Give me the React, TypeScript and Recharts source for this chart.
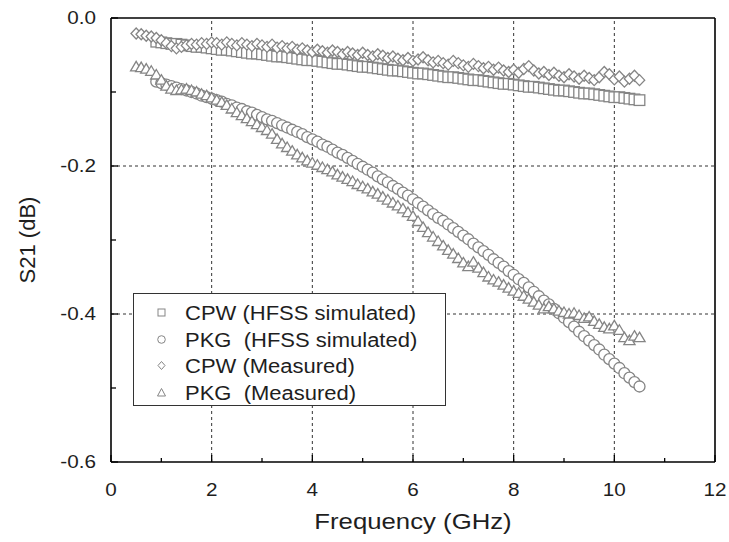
import { ScatterChart, Scatter, XAxis, YAxis, ReferenceLine } from 'recharts'

// frequencies (GHz) for the simulated curves, 0.9 .. 10.5
const simFreq = [
  0.9, 1.0, 1.1, 1.2, 1.3, 1.4, 1.5, 1.6, 1.7, 1.8, 1.9, 2.0, 2.1, 2.2, 2.3, 2.4, 2.5, 2.6, 2.7, 2.8,
  2.9, 3.0, 3.1, 3.2, 3.3, 3.4, 3.5, 3.6, 3.7, 3.8, 3.9, 4.0, 4.1, 4.2, 4.3, 4.4, 4.5, 4.6, 4.7, 4.8,
  4.9, 5.0, 5.1, 5.2, 5.3, 5.4, 5.5, 5.6, 5.7, 5.8, 5.9, 6.0, 6.1, 6.2, 6.3, 6.4, 6.5, 6.6, 6.7, 6.8,
  6.9, 7.0, 7.1, 7.2, 7.3, 7.4, 7.5, 7.6, 7.7, 7.8, 7.9, 8.0, 8.1, 8.2, 8.3, 8.4, 8.5, 8.6, 8.7, 8.8,
  8.9, 9.0, 9.1, 9.2, 9.3, 9.4, 9.5, 9.6, 9.7, 9.8, 9.9, 10.0, 10.1, 10.2, 10.3, 10.4, 10.5,
]

const cpwSim = [
  -0.032, -0.033, -0.034, -0.035, -0.035, -0.036, -0.037, -0.038, -0.039, -0.039, -0.040, -0.041, -0.042, -0.043, -0.043, -0.044, -0.045, -0.046, -0.047, -0.048,
  -0.048, -0.049, -0.050, -0.051, -0.052, -0.052, -0.053, -0.054, -0.055, -0.056, -0.057, -0.057, -0.058, -0.059, -0.060, -0.061, -0.062, -0.062, -0.063, -0.064,
  -0.065, -0.066, -0.066, -0.067, -0.068, -0.069, -0.070, -0.071, -0.071, -0.072, -0.073, -0.074, -0.075, -0.075, -0.076, -0.077, -0.078, -0.079, -0.080, -0.080,
  -0.081, -0.082, -0.083, -0.084, -0.084, -0.085, -0.086, -0.087, -0.088, -0.089, -0.089, -0.090, -0.091, -0.092, -0.093, -0.093, -0.094, -0.095, -0.096, -0.097,
  -0.098, -0.098, -0.099, -0.100, -0.101, -0.102, -0.102, -0.103, -0.104, -0.105, -0.106, -0.107, -0.107, -0.108, -0.109, -0.110, -0.111,
]

const pkgSim = [
  -0.086, -0.088, -0.090, -0.092, -0.094, -0.096, -0.098, -0.100, -0.102, -0.105, -0.107, -0.109, -0.111, -0.113, -0.116, -0.118, -0.121, -0.123, -0.126, -0.128,
  -0.131, -0.134, -0.137, -0.139, -0.142, -0.145, -0.148, -0.151, -0.154, -0.157, -0.161, -0.164, -0.167, -0.171, -0.174, -0.178, -0.182, -0.185, -0.189, -0.193,
  -0.197, -0.201, -0.205, -0.209, -0.214, -0.218, -0.222, -0.227, -0.231, -0.236, -0.240, -0.245, -0.250, -0.255, -0.260, -0.265, -0.270, -0.274, -0.279, -0.284,
  -0.289, -0.294, -0.299, -0.305, -0.310, -0.315, -0.320, -0.326, -0.331, -0.336, -0.342, -0.347, -0.353, -0.358, -0.364, -0.370, -0.376, -0.382, -0.387, -0.393,
  -0.399, -0.405, -0.411, -0.417, -0.424, -0.430, -0.436, -0.442, -0.448, -0.455, -0.461, -0.467, -0.473, -0.480, -0.486, -0.492, -0.498,
]

// frequencies (GHz) for the measured data, 0.5 .. 10.5
const measFreq = [
  0.5, 0.6, 0.7, 0.8, ...simFreq,
]

const cpwMeas = [
  -0.021, -0.022, -0.024, -0.025,
  -0.027, -0.030, -0.034, -0.038, -0.041, -0.039, -0.037, -0.035, -0.036, -0.034, -0.035, -0.033, -0.034, -0.036, -0.033, -0.035, -0.037, -0.034, -0.036, -0.038,
  -0.035, -0.037, -0.039, -0.036, -0.040, -0.038, -0.041, -0.039, -0.043, -0.041, -0.044, -0.046, -0.043, -0.045, -0.047, -0.044, -0.046, -0.049, -0.046, -0.048,
  -0.050, -0.047, -0.050, -0.052, -0.049, -0.051, -0.054, -0.052, -0.055, -0.057, -0.054, -0.058, -0.056, -0.053, -0.057, -0.060, -0.058, -0.061, -0.063, -0.058,
  -0.061, -0.064, -0.066, -0.062, -0.065, -0.068, -0.066, -0.070, -0.067, -0.071, -0.073, -0.070, -0.074, -0.069, -0.065, -0.071, -0.075, -0.073, -0.077, -0.074,
  -0.078, -0.080, -0.076, -0.079, -0.082, -0.078, -0.081, -0.084, -0.080, -0.073, -0.076, -0.083, -0.079, -0.086, -0.082, -0.078, -0.084,
]

const pkgMeas = [
  -0.066, -0.067, -0.069, -0.072,
  -0.077, -0.084, -0.092, -0.096, -0.098, -0.097, -0.096, -0.098, -0.100, -0.103, -0.105, -0.108, -0.111, -0.114, -0.118, -0.123, -0.128, -0.132, -0.136, -0.140,
  -0.144, -0.148, -0.152, -0.157, -0.164, -0.170, -0.175, -0.180, -0.185, -0.189, -0.193, -0.196, -0.199, -0.202, -0.205, -0.208, -0.212, -0.215, -0.218, -0.221,
  -0.225, -0.228, -0.231, -0.235, -0.238, -0.242, -0.246, -0.250, -0.254, -0.258, -0.263, -0.268, -0.275, -0.283, -0.290, -0.296, -0.302, -0.308, -0.314, -0.319,
  -0.325, -0.331, -0.336, -0.330, -0.338, -0.344, -0.350, -0.354, -0.357, -0.361, -0.365, -0.369, -0.372, -0.376, -0.380, -0.384, -0.388, -0.393, -0.390, -0.393,
  -0.396, -0.398, -0.400, -0.399, -0.402, -0.406, -0.404, -0.410, -0.414, -0.418, -0.420, -0.416, -0.422, -0.432, -0.436, -0.430, -0.432,
]

const xTicks = [0, 1, 2, 3, 4, 5, 6, 7, 8, 9, 10, 11, 12]
const yTicks = [-0.6, -0.5, -0.4, -0.3, -0.2, -0.1, 0]
const xGrid = [2, 4, 6, 8, 10]
const yGrid = [-0.2, -0.4]

const legendLabels = ['CPW (HFSS simulated)', 'PKG  (HFSS simulated)', 'CPW (Measured)', 'PKG  (Measured)']

const MARK = '#858585'
const INK = '#1e1e1e'
const FONT = '"Liberation Sans", Arial, sans-serif'

const toPoints = (xs: number[], ys: number[]) => xs.map((f, i) => ({ f, v: ys[i] }))

const SquareMark = (p: any) => (
  <rect x={p.cx - 5.3} y={p.cy - 5.3} width={10.6} height={10.6} fill="#fff" stroke={MARK} strokeWidth={1.3} />
)
const CircleMark = (p: any) => <circle cx={p.cx} cy={p.cy} r={5.5} fill="#fff" stroke={MARK} strokeWidth={1.3} />
const DiamondMark = (p: any) => (
  <polygon
    points={`${p.cx},${p.cy - 5.5} ${p.cx + 5.2},${p.cy} ${p.cx},${p.cy + 5.5} ${p.cx - 5.2},${p.cy}`}
    fill="#fff"
    stroke={MARK}
    strokeWidth={1.3}
  />
)
const TriangleMark = (p: any) => (
  <polygon
    points={`${p.cx},${p.cy - 5.5} ${p.cx + 5.6},${p.cy + 4} ${p.cx - 5.6},${p.cy + 4}`}
    fill="#fff"
    stroke={MARK}
    strokeWidth={1.3}
  />
)

const XTick = ({ x, y, payload }: any) => {
  const major = payload.value % 2 === 0
  return (
    <g>
      <line x1={x} x2={x} y1={y} y2={y - (major ? 7 : 4)} stroke="#000" strokeWidth={1.3} />
      {major && (
        <text transform={`translate(${x},${y + 34}) scale(1.15,1)`} textAnchor="middle" fontSize={18} fill={INK} fontFamily={FONT}>
          {payload.value}
        </text>
      )}
    </g>
  )
}

const YTick = ({ x, y, payload }: any) => {
  const major = Math.round(payload.value * 10) % 2 === 0
  return (
    <g>
      <line x1={x} x2={x + (major ? 7 : 5)} y1={y} y2={y} stroke="#000" strokeWidth={1.3} />
      {major && (
        <text transform={`translate(${x - 15},${y + 6}) scale(1.15,1)`} textAnchor="end" fontSize={18} fill={INK} fontFamily={FONT}>
          {payload.value.toFixed(1)}
        </text>
      )}
    </g>
  )
}

const legendIcons = [
  <rect x={4} y={4} width={7} height={7} fill="#fff" stroke={MARK} strokeWidth={1} />,
  <circle cx={7.5} cy={7.5} r={3.8} fill="#fff" stroke={MARK} strokeWidth={1} />,
  <polygon points="7.5,3.5 11,7.5 7.5,11.5 4,7.5" fill="#fff" stroke={MARK} strokeWidth={1} />,
  <polygon points="7.5,3.5 11.5,11 3.5,11" fill="#fff" stroke={MARK} strokeWidth={1} />,
]

const LegendBox = () => (
  <div
    style={{
      position: 'absolute',
      left: 133,
      top: 293,
      width: 311,
      height: 111,
      border: '1.5px solid #333',
      background: '#fff',
      fontFamily: FONT,
      color: INK,
    }}
  >
    {legendLabels.map((label, i) => (
      <div key={label} style={{ position: 'absolute', left: 0, top: 6 + i * 26.7, height: 26, width: 311 }}>
        <svg width={15} height={15} style={{ position: 'absolute', left: 20, top: 5 }}>
          {legendIcons[i]}
        </svg>
        <span
          style={{
            position: 'absolute',
            left: 51,
            top: 0,
            fontSize: 20,
            lineHeight: '26px',
            whiteSpace: 'pre',
            transform: 'scaleX(1.1)',
            transformOrigin: 'left center',
          }}
        >
          {label}
        </span>
      </div>
    ))}
  </div>
)

export default function App() {
  return (
    <div style={{ position: 'absolute', left: 0, top: 0, width: 729, height: 542, background: '#fff' }}>
      <ScatterChart width={729} height={542} margin={{ top: 18, right: 14, left: 0, bottom: 0 }}>
        <XAxis
          type="number"
          dataKey="f"
          domain={[0, 12]}
          ticks={xTicks}
          interval={0}
          height={80}
          tickSize={0}
          tickMargin={0}
          tickLine={false}
          axisLine={{ stroke: '#000', strokeWidth: 1.6 }}
          tick={<XTick />}
          label={{
            content: () => (
              <text transform="translate(413,529) scale(1.17,1)" textAnchor="middle" fontSize={22} fill={INK} fontFamily={FONT}>
                Frequency (GHz)
              </text>
            ),
          }}
        />
        <YAxis
          type="number"
          dataKey="v"
          domain={[-0.6, 0]}
          ticks={yTicks}
          interval={0}
          width={111}
          tickSize={0}
          tickMargin={0}
          tickLine={false}
          axisLine={{ stroke: '#000', strokeWidth: 1.6 }}
          tick={<YTick />}
          label={{
            content: () => (
              <text transform="translate(35,240) rotate(-90)" textAnchor="middle" fontSize={22} fill={INK} fontFamily={FONT}>
                S21 (dB)
              </text>
            ),
          }}
        />
        {xGrid.map((g) => (
          <ReferenceLine key={`x${g}`} x={g} stroke="#333" strokeDasharray="3 3" strokeWidth={1} />
        ))}
        {yGrid.map((g) => (
          <ReferenceLine key={`y${g}`} y={g} stroke="#333" strokeDasharray="3 3" strokeWidth={1} />
        ))}
        <ReferenceLine x={12} stroke="#000" strokeWidth={1.6} />
        <ReferenceLine y={0} stroke="#000" strokeWidth={1.6} />
        <Scatter name={legendLabels[0]} data={toPoints(simFreq, cpwSim)} shape={SquareMark} isAnimationActive={false} />
        <Scatter name={legendLabels[1]} data={toPoints(simFreq, pkgSim)} shape={CircleMark} isAnimationActive={false} />
        <Scatter name={legendLabels[2]} data={toPoints(measFreq, cpwMeas)} shape={DiamondMark} isAnimationActive={false} />
        <Scatter name={legendLabels[3]} data={toPoints(measFreq, pkgMeas)} shape={TriangleMark} isAnimationActive={false} />
      </ScatterChart>
      <LegendBox />
    </div>
  )
}
